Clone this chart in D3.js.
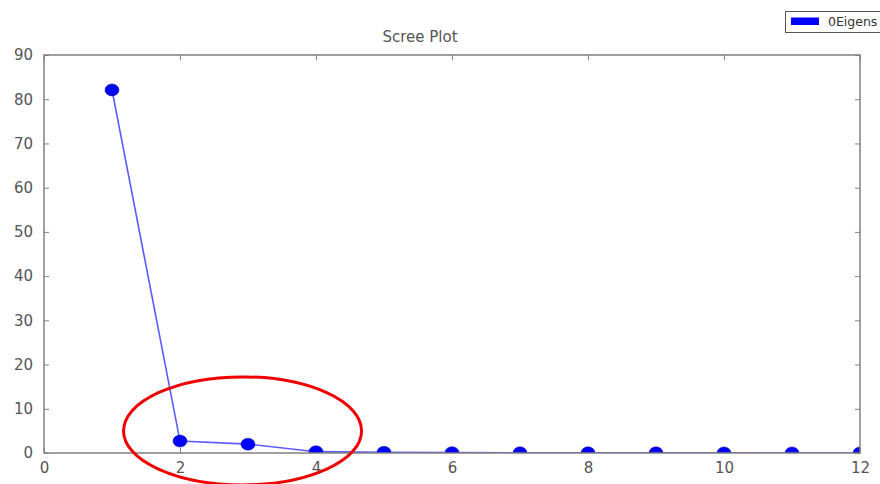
<!DOCTYPE html>
<html>
<head>
<meta charset="utf-8">
<script src="https://cdn.jsdelivr.net/npm/d3@7"></script>
<style>
  html, body { margin: 0; padding: 0; background: #fff; }
  svg { display: block; font-family: "DejaVu Sans", sans-serif; }
</style>
</head>
<body>
<svg id="chart" width="880" height="484"></svg>
<script>
// Component index and eigenvalue for the scree plot
const components = [1, 2, 3, 4, 5, 6, 7, 8, 9, 10, 11, 12];
const eigenvalues = [82.1, 2.7, 2.0, 0.3, 0.15, 0.08, 0.05, 0.04, 0.03, 0.02, 0.01, 0.005];
const xTicks = [0, 2, 4, 6, 8, 10, 12];
const yTicks = [0, 10, 20, 30, 40, 50, 60, 70, 80, 90];
const seriesName = "0Eigens";
const chartTitle = "Scree Plot";

const svg = d3.select("#chart");
const m = { left: 44, right: 860, top: 55, bottom: 453 };

const x = d3.scaleLinear().domain([0, 12]).range([m.left, m.right]);
const y = d3.scaleLinear().domain([0, 90]).range([m.bottom, m.top]);

const axisColor = "#808080";
const textColor = "#555";

// clip region for the plotted data
svg.append("defs").append("clipPath").attr("id", "plotClip")
  .append("rect")
  .attr("x", m.left).attr("y", m.top)
  .attr("width", m.right - m.left).attr("height", m.bottom - m.top);

// Axes with inward ticks on all four sides
function styleAxis(g) {
  g.select(".domain").remove();
  g.selectAll("line").attr("stroke", axisColor).attr("stroke-width", 1);
  g.selectAll("text").attr("fill", textColor).attr("font-size", 15)
    .attr("font-family", "DejaVu Sans, sans-serif");
}

svg.append("g").attr("transform", `translate(0,${m.bottom})`)
  .call(d3.axisBottom(x).tickValues(xTicks).tickFormat(d3.format("d"))
    .tickSizeInner(-5).tickSizeOuter(0).tickPadding(9))
  .call(styleAxis);
svg.append("g").attr("transform", `translate(0,${m.top})`)
  .call(d3.axisTop(x).tickValues(xTicks).tickFormat("")
    .tickSizeInner(-5).tickSizeOuter(0))
  .call(styleAxis);
svg.append("g").attr("transform", `translate(${m.left},0)`)
  .call(d3.axisLeft(y).tickValues(yTicks).tickFormat(d3.format("d"))
    .tickSizeInner(-5).tickSizeOuter(0).tickPadding(11))
  .call(styleAxis);
svg.append("g").attr("transform", `translate(${m.right},0)`)
  .call(d3.axisRight(y).tickValues(yTicks).tickFormat("")
    .tickSizeInner(-5).tickSizeOuter(0))
  .call(styleAxis);

// Data line and markers
const plot = svg.append("g").attr("clip-path", "url(#plotClip)");
const pts = components.map((c, i) => [c, eigenvalues[i]]);

plot.append("path")
  .datum(pts)
  .attr("fill", "none")
  .attr("stroke", "#5a5aff")
  .attr("stroke-width", 1.6)
  .attr("d", d3.line().x(d => x(d[0])).y(d => y(d[1])));

plot.selectAll("ellipse.pt")
  .data(pts)
  .join("ellipse")
  .attr("class", "pt")
  .attr("cx", d => x(d[0]))
  .attr("cy", d => y(d[1]))
  .attr("rx", 7)
  .attr("ry", 6)
  .attr("fill", "#0000ff")
  .attr("stroke", "#00008a")
  .attr("stroke-width", 0.5);

// Plot frame
svg.append("rect")
  .attr("x", m.left).attr("y", m.top)
  .attr("width", m.right - m.left).attr("height", m.bottom - m.top)
  .attr("fill", "none").attr("stroke", axisColor).attr("stroke-width", 1.5);

// Title
svg.append("text")
  .attr("x", 420).attr("y", 42)
  .attr("text-anchor", "middle")
  .attr("font-size", 15).attr("fill", textColor)
  .text(chartTitle);

// Legend
const lg = svg.append("g");
lg.append("rect").attr("x", 785.5).attr("y", 11.5).attr("width", 100).attr("height", 21)
  .attr("fill", "#fff").attr("stroke", "#555").attr("stroke-width", 1);
lg.append("rect").attr("x", 791).attr("y", 17.5).attr("width", 28).attr("height", 7.5)
  .attr("fill", "#0000ff");
lg.append("text").attr("x", 828).attr("y", 26)
  .attr("font-size", 12.5).attr("fill", "#333").text(seriesName);

// Highlight around the elbow of the curve
svg.append("ellipse")
  .attr("cx", x(2.92)).attr("cy", y(5))
  .attr("rx", 119).attr("ry", 54)
  .attr("fill", "none").attr("stroke", "#ee0000").attr("stroke-width", 3);
</script>
</body>
</html>
